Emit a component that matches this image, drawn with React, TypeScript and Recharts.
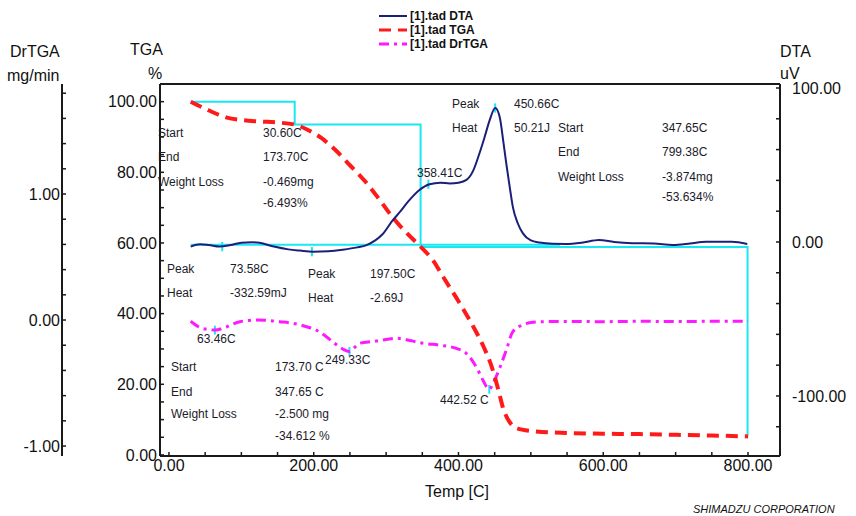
import { ComposedChart, Line, ReferenceLine, XAxis, YAxis } from "recharts";

// TGA curve (%)
const tgaTemp = [30, 50, 80, 100, 125, 150, 174, 190, 210, 230, 250, 270, 290, 310, 330, 348, 365, 380, 400, 420, 435, 445, 455, 462, 470, 480, 500, 550, 600, 650, 700, 750, 800];
const tgaPct = [100, 98, 95.5, 94.8, 94.4, 94.1, 93.5, 92.2, 89.8, 86.3, 82, 77.7, 72.5, 67, 62.5, 58.9, 55, 50, 43.5, 36.5, 30.5, 25.5, 18.5, 13, 9.5, 7.6, 6.8, 6.2, 6.0, 5.9, 5.7, 5.5, 5.25];

// DTA curve (uV)
const dtaTemp = [30, 43, 55, 70, 85, 100, 115, 125, 145, 165, 181, 199, 220, 240, 260, 273, 285, 295, 309, 320, 330, 346, 360, 375, 388, 400, 411, 420, 429, 436, 443, 450.7, 457, 462, 466, 471, 475, 482, 489, 500, 512, 530, 548, 570, 594, 615, 640, 670, 696, 720, 742, 778, 799];
const dtaUv = [-3, -1.5, -2, -3, -2, -0.5, -0.2, -0.5, -3, -4.8, -5.6, -6.3, -6, -5, -3.5, -2, 1, 5, 14, 20, 26, 33.8, 37.5, 38.5, 38, 38.5, 40.3, 46, 57.6, 68, 79, 87, 81, 65, 51, 35, 23, 12, 5.6, 1, -0.4, -1.2, -1.3, -0.5, 1.3, 0, -0.8, -1, -2, -1, 0.2, 0.2, -1.3];

// DrTGA curve (mg/min)
const drTemp = [30, 43, 55, 63.5, 80, 98, 121, 140, 153, 175, 190, 205, 217, 230, 240, 249.3, 256, 263, 282, 300, 314, 335, 351, 375, 397, 410, 420, 428, 434, 442.5, 448, 452, 459, 466, 475, 488, 500, 516, 560, 600, 650, 700, 750, 800];
const drRate = [-0.01, -0.06, -0.075, -0.08, -0.053, -0.013, 0, -0.005, -0.013, -0.03, -0.053, -0.085, -0.13, -0.19, -0.23, -0.25, -0.22, -0.185, -0.17, -0.155, -0.145, -0.165, -0.185, -0.2, -0.225, -0.26, -0.33, -0.41, -0.48, -0.55, -0.5, -0.45, -0.35, -0.24, -0.093, -0.04, -0.02, -0.013, -0.012, -0.013, -0.01, -0.012, -0.01, -0.01];

// step analysis (cyan) on TGA, and DTA baseline
const stepTemp = [30.6, 173.7, 173.7, 347.65, 347.65, 799.38, 799.38];
const stepPct = [100, 100, 93.507, 93.507, 58.895, 58.895, 5.261];
const baseTemp = [30, 540];
const baseUv = [-1.8, -1.8];

// peak markers
const dtaPeakTemp = [73.58, 197.5, 358.41, 450.66];
const dtaPeakUv = [-3, -6.3, 37.5, 87];
const drPeakTemp = [63.46, 249.33, 442.52];
const drPeakRate = [-0.08, -0.25, -0.55];

const xTicks = [0, 50, 100, 150, 200, 250, 300, 350, 400, 450, 500, 550, 600, 650, 700, 750, 800];
const tgaTicks = [0, 5, 10, 15, 20, 25, 30, 35, 40, 45, 50, 55, 60, 65, 70, 75, 80, 85, 90, 95, 100, 105];
const dtaTicks = [-120, -100, -80, -60, -40, -20, 0, 20, 40, 60, 80, 100];
const drTicks = [-1, -0.8, -0.6, -0.4, -0.2, 0, 0.2, 0.4, 0.6, 0.8, 1, 1.2, 1.4, 1.6, 1.8];

const rows = (t: number[], v: number[]) => t.map((x, i) => ({ t: x, v: v[i] }));

const FONT = "Arial, 'Liberation Sans', sans-serif";
const AXIS = "#1a1a1a";
const CYAN = "#19e8f2";

const every = (step: number) => (v: number) =>
  Math.abs(v / step - Math.round(v / step)) < 1e-6 ? v.toFixed(2) : "";

const tickStyle = { fontSize: 16, fill: "#111", fontFamily: FONT };

// free texts of the instrument print-out: [text, left, centerY]
const notes: [string, number, number][] = [
  ["Start", 158, 133], ["30.60C", 263, 133],
  ["End", 158, 157], ["173.70C", 263, 157],
  ["Weight Loss", 158, 182], ["-0.469mg", 263, 182],
  ["-6.493%", 263, 203],
  ["358.41C", 417, 173],
  ["Peak", 452, 104], ["450.66C", 514, 104],
  ["Heat", 452, 128], ["50.21J", 514, 128],
  ["Start", 558, 128], ["347.65C", 662, 128],
  ["End", 558, 152], ["799.38C", 662, 152],
  ["Weight Loss", 558, 177], ["-3.874mg", 662, 177],
  ["-53.634%", 662, 197],
  ["Peak", 167, 269], ["73.58C", 230, 269],
  ["Heat", 167, 293], ["-332.59mJ", 230, 293],
  ["Peak", 308, 274], ["197.50C", 370, 274],
  ["Heat", 308, 298], ["-2.69J", 370, 298],
  ["63.46C", 197, 339],
  ["249.33C", 325, 360],
  ["Start", 171, 367], ["173.70 C", 275, 367],
  ["End", 171, 392], ["347.65 C", 275, 392],
  ["Weight Loss", 171, 414], ["-2.500 mg", 275, 414],
  ["-34.612 %", 275, 436],
  ["442.52 C", 440, 400],
];

const titles: [string, number, number][] = [
  ["DrTGA", 10, 52], ["mg/min", 7, 76],
  ["TGA", 130, 50], ["%", 148, 74],
  ["DTA", 780, 52], ["uV", 780, 74],
  ["Temp [C]", 425, 492],
];

const legend = [
  { name: "[1].tad DTA", color: "#1c1f78", dash: "none", y: 16 },
  { name: "[1].tad TGA", color: "#ff1a1a", dash: "12 7", y: 30 },
  { name: "[1].tad DrTGA", color: "#ff19ff", dash: "10 5 3 5", y: 44 },
];

export default function App() {
  return (
    <div style={{ position: "fixed", left: 0, top: 0, width: 856, height: 516, background: "#fff", fontFamily: FONT }}>
      <style>{`.recharts-cartesian-axis-line { stroke-width: 2px; } .recharts-cartesian-axis-tick-line { stroke-width: 1.5px; }`}</style>
      <ComposedChart width={856} height={516} margin={{ top: 83, right: 16, bottom: 20, left: 0 }}>
        <XAxis
          xAxisId="x"
          type="number"
          dataKey="t"
          domain={[-12.4, 844.2]}
          allowDataOverflow
          ticks={xTicks}
          tickFormatter={every(200)}
          tick={tickStyle}
          tickSize={-4}
          tickMargin={8}
          height={40}
          stroke={AXIS}
          interval={0}
        />
        <XAxis xAxisId="top" type="number" orientation="top" domain={[0, 1]} height={1} tick={false} tickLine={false} stroke={AXIS} />
        <YAxis
          yAxisId="a_tga"
          type="number"
          domain={[-0.3, 105]}
          allowDataOverflow
          ticks={tgaTicks}
          tickFormatter={every(20)}
          tick={tickStyle}
          tickSize={-4}
          tickMargin={7}
          width={98}
          stroke={AXIS}
          interval={0}
        />
        <YAxis
          yAxisId="b_dr"
          type="number"
          domain={[-1.079, 1.873]}
          allowDataOverflow
          ticks={drTicks}
          tickFormatter={every(1)}
          tick={tickStyle}
          tickSize={-4}
          tickMargin={6}
          width={62}
          stroke={AXIS}
          interval={0}
        />
        <YAxis
          yAxisId="dta"
          orientation="right"
          type="number"
          domain={[-139, 102.6]}
          allowDataOverflow
          ticks={dtaTicks}
          tickFormatter={every(100)}
          tick={{ ...tickStyle, textAnchor: "start" }}
          tickSize={-4}
          tickMargin={16}
          width={60}
          stroke={AXIS}
          interval={0}
        />

        <Line xAxisId="x" yAxisId="dta" data={rows(baseTemp, baseUv)} dataKey="v" type="linear" stroke={CYAN} strokeWidth={2} dot={false} isAnimationActive={false} />
        <Line xAxisId="x" yAxisId="a_tga" data={rows(stepTemp, stepPct)} dataKey="v" type="linear" stroke={CYAN} strokeWidth={2} dot={false} isAnimationActive={false} />
        {dtaPeakTemp.map((t, i) => (
          <ReferenceLine key={"dp" + i} xAxisId="x" yAxisId="dta" segment={[{ x: t, y: dtaPeakUv[i] - 3 }, { x: t, y: dtaPeakUv[i] + 3 }]} stroke={CYAN} strokeWidth={2} />
        ))}
        {drPeakTemp.map((t, i) => (
          <ReferenceLine key={"rp" + i} xAxisId="x" yAxisId="b_dr" segment={[{ x: t, y: drPeakRate[i] - 0.035 }, { x: t, y: drPeakRate[i] + 0.035 }]} stroke={CYAN} strokeWidth={2} />
        ))}

        <Line xAxisId="x" yAxisId="b_dr" data={rows(drTemp, drRate)} dataKey="v" type="monotone" stroke="#ff19ff" strokeWidth={3} strokeDasharray="10 5 3 5" dot={false} isAnimationActive={false} />
        <Line xAxisId="x" yAxisId="a_tga" data={rows(tgaTemp, tgaPct)} dataKey="v" type="monotone" stroke="#ff1a1a" strokeWidth={4} strokeDasharray="12 7" dot={false} isAnimationActive={false} />
        <Line xAxisId="x" yAxisId="dta" data={rows(dtaTemp, dtaUv)} dataKey="v" type="monotone" stroke="#1c1f78" strokeWidth={2} dot={false} isAnimationActive={false} />
      </ComposedChart>

      {notes.map(([text, x, y], i) => (
        <span key={i} style={{ position: "absolute", left: x, top: y - 7, fontSize: 12, lineHeight: "14px", color: "#1b1b2b", whiteSpace: "nowrap" }}>
          {text}
        </span>
      ))}
      {titles.map(([text, x, y], i) => (
        <span key={"t" + i} style={{ position: "absolute", left: x, top: y - 9, fontSize: 16, lineHeight: "18px", color: "#111", whiteSpace: "nowrap" }}>
          {text}
        </span>
      ))}
      {legend.map((l) => (
        <div key={l.name} style={{ position: "absolute", left: 378, top: l.y - 7, height: 14, display: "flex", alignItems: "center" }}>
          <svg width={30} height={14}>
            <line x1={1} y1={7} x2={29} y2={7} stroke={l.color} strokeWidth={l.dash === "none" ? 2 : 3} strokeDasharray={l.dash === "none" ? undefined : l.dash} />
          </svg>
          <span style={{ fontSize: 12, fontWeight: "bold", color: "#111", marginLeft: 2, whiteSpace: "nowrap" }}>{l.name}</span>
        </div>
      ))}
      <span style={{ position: "absolute", left: 693, top: 503, fontSize: 11, fontStyle: "italic", color: "#111", whiteSpace: "nowrap" }}>
        SHIMADZU CORPORATION
      </span>
    </div>
  );
}
